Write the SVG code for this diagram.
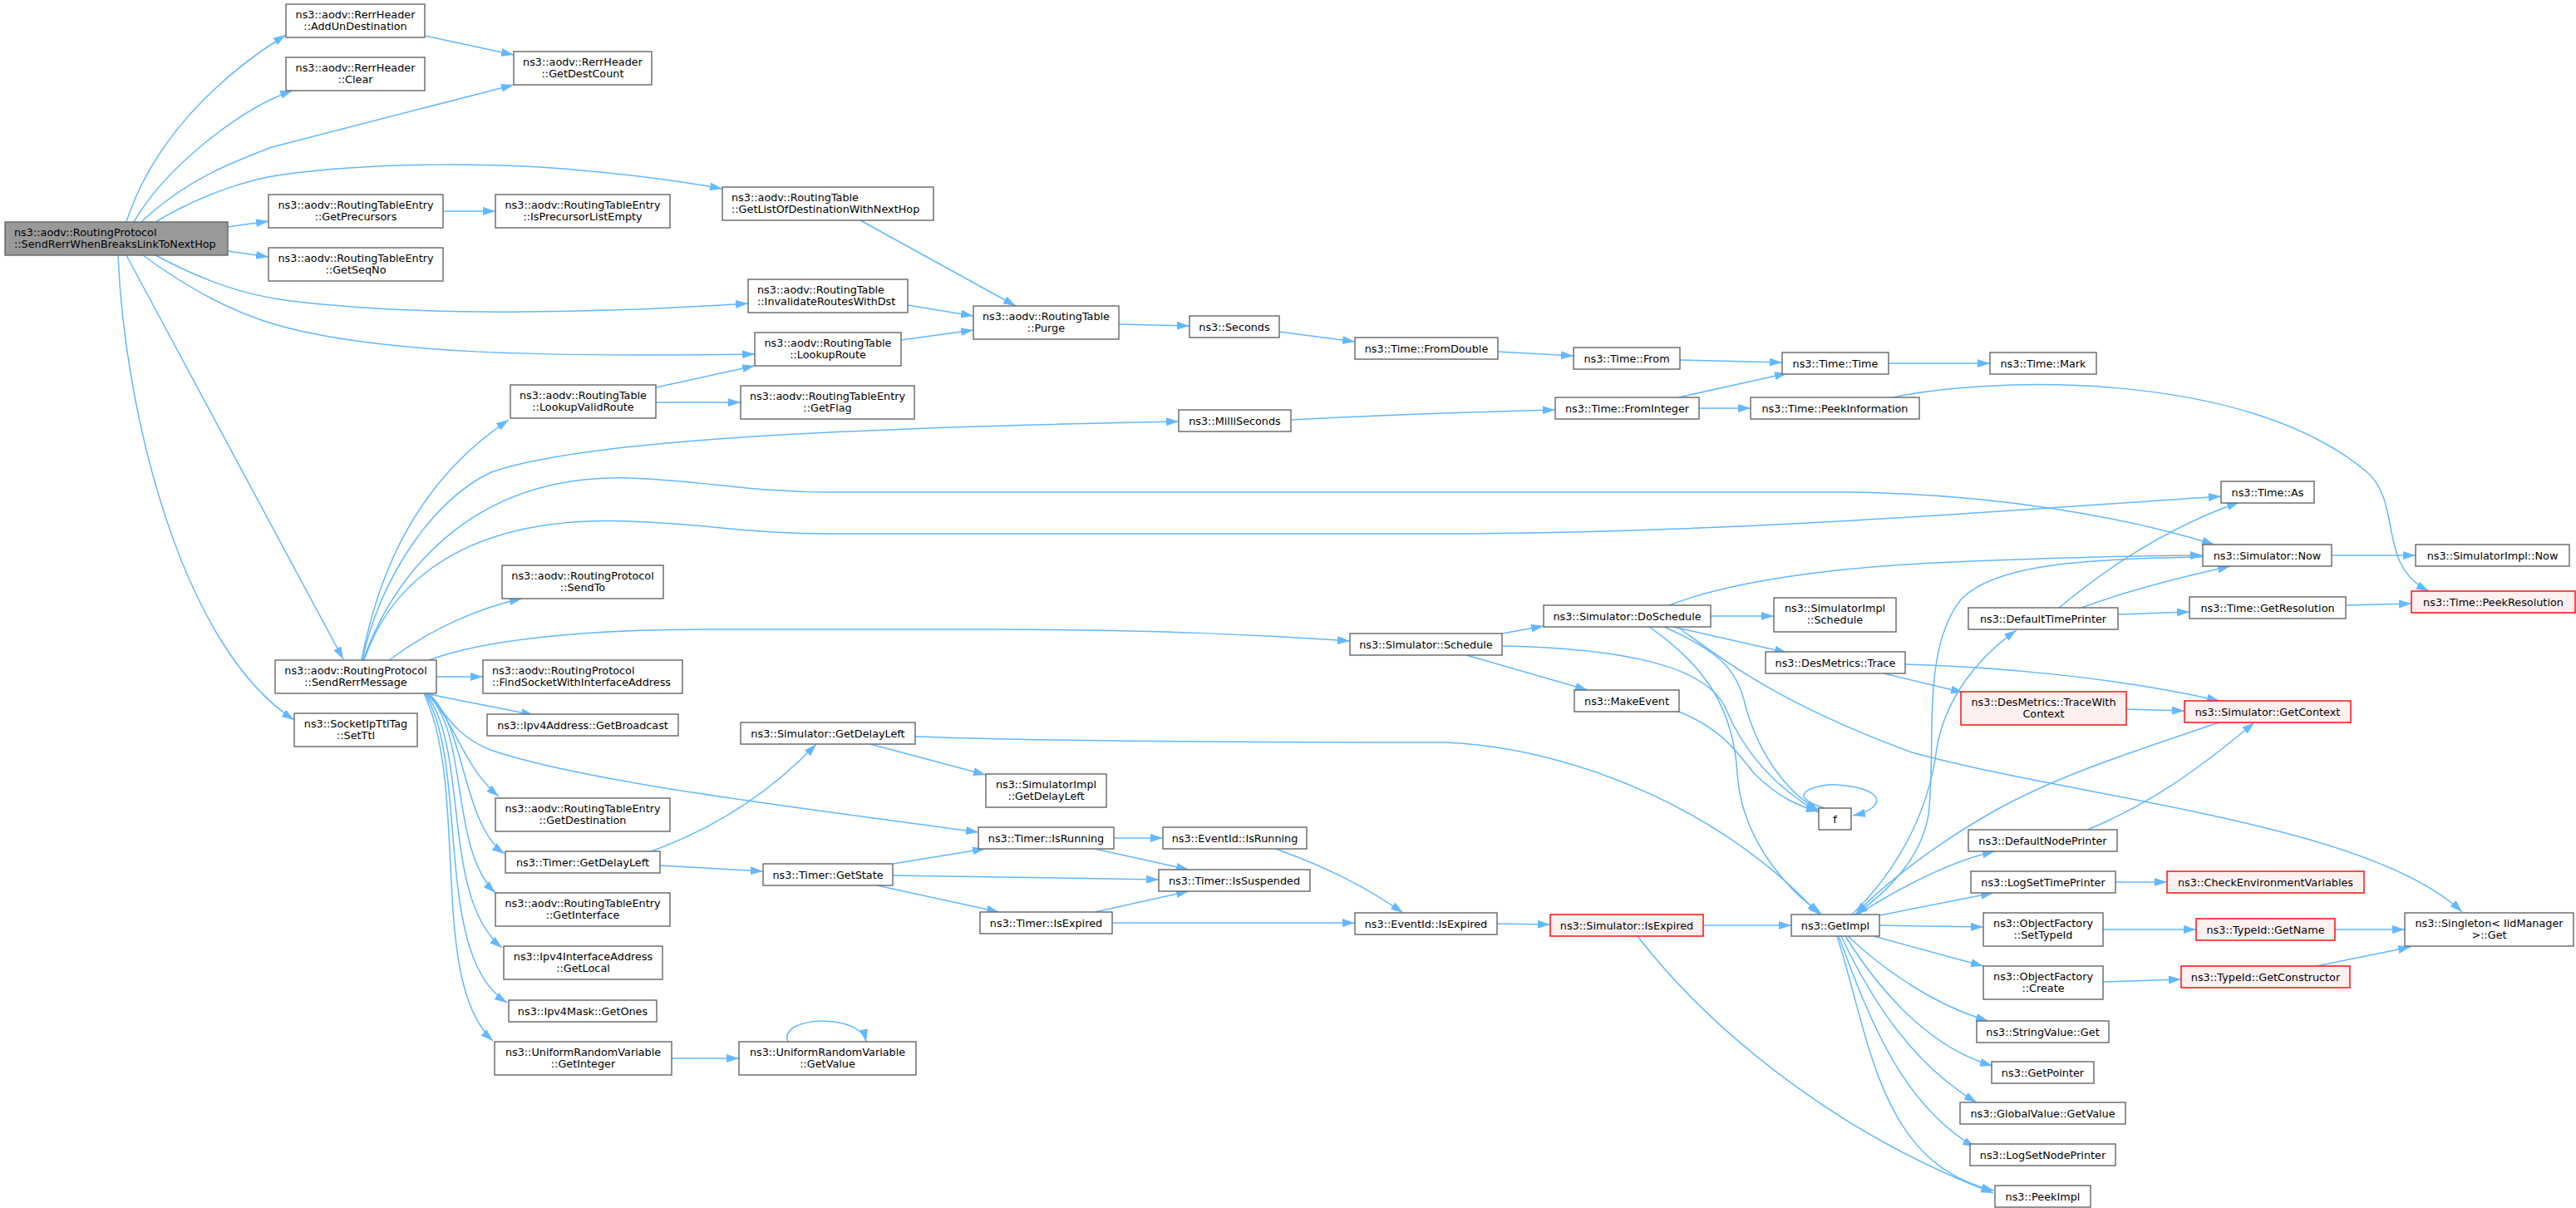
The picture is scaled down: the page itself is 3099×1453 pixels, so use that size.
<svg xmlns="http://www.w3.org/2000/svg" width="3099" height="1453" viewBox="0 0 3099 1453">
<style>
.n rect{fill:#fff;stroke:#666;stroke-width:1.4}
.m rect{fill:#999;stroke:#666;stroke-width:1.4}
.r rect{fill:#fff0f0;stroke:#f00;stroke-width:1.4}
text{font-family:"DejaVu Sans","Liberation Sans",sans-serif;font-size:12.8px;fill:#000}
.c{text-anchor:middle}
.l{text-anchor:start}
#edges path{fill:none;stroke:#63b8ff;stroke-width:1.5;marker-end:url(#a)}
</style>
<defs>
<marker id="a" markerUnits="userSpaceOnUse" markerWidth="16" markerHeight="12" refX="15" refY="5" orient="auto">
<path d="M0,0 L15,5 L0,10 z" fill="#63b8ff"/>
</marker>
</defs>
<rect width="3099" height="1453" fill="#fff"/>
<g id="edges">
<path d="M152,267 C190,150 290,75 344,42"/>
<path d="M161,267 C200,200 290,130 352,109"/>
<path d="M170,267 C225,215 280,195 327,177 L618,102"/>
<path d="M187,267 C240,235 300,215 340,210 C450,195 600,195 700,205 C780,212 830,220 869,227"/>
<path d="M274,273 L323,266"/>
<path d="M274,302 L323,309"/>
<path d="M187,307 C240,335 290,355 350,362 C500,380 700,378 900,365"/>
<path d="M172,307 C230,350 280,375 330,390 C450,425 650,430 908,426"/>
<path d="M152,307 L413,793"/>
<path d="M142,307 C150,500 220,780 354,866"/>
<path d="M511,43 L618,66"/>
<path d="M533,254 L596,254"/>
<path d="M789,466 L908,440"/>
<path d="M789,484 L891,484"/>
<path d="M1035,265 L1222,368"/>
<path d="M1092,367 L1171,380"/>
<path d="M1084,409 L1171,397"/>
<path d="M1346,390 L1431,392"/>
<path d="M1539,399 L1630,411"/>
<path d="M1802,423 L1893,428"/>
<path d="M2021,433 L2144,436"/>
<path d="M2272,437 L2394,437"/>
<path d="M1553,505 C1650,500 1750,496 1871,493"/>
<path d="M2019,478 L2150,449"/>
<path d="M2044,491 L2106,491"/>
<path d="M2277,478 C2380,455 2700,440 2850,570 C2890,610 2860,680 2922,711"/>
<path d="M435,794 C455,690 500,580 612,505"/>
<path d="M436,794 C455,700 520,600 591,568 C700,530 1000,515 1418,507"/>
<path d="M437,794 C470,700 560,570 756,575 C850,578 900,592 1000,592 L2230,592 C2400,595 2550,620 2664,655"/>
<path d="M438,794 C470,700 560,620 756,627 C850,630 900,642 1000,642 L1750,642 C2100,640 2400,615 2672,597"/>
<path d="M468,794 C520,755 580,730 628,720"/>
<path d="M516,794 C580,770 700,757 850,757 L1200,757 C1400,758 1500,763 1624,771"/>
<path d="M525,814 L581,814"/>
<path d="M511,834 L642,860"/>
<path d="M517,835 C545,875 560,890 590,902 C700,940 950,970 1177,1001"/>
<path d="M512,834 C545,860 555,920 600,958"/>
<path d="M515,834 C560,870 555,990 607,1027"/>
<path d="M513,834 C565,880 540,1020 596,1074"/>
<path d="M512,834 C565,900 530,1080 604,1140"/>
<path d="M511,834 C565,920 520,1150 610,1206"/>
<path d="M510,834 C565,950 515,1180 593,1252"/>
<path d="M808,1273 L889,1273"/>
<path d="M948,1253 C935,1222 1035,1218 1042,1253"/>
<path d="M783,1024 C850,1000 920,960 982,895"/>
<path d="M794,1041 L918,1048"/>
<path d="M1047,895 L1186,932"/>
<path d="M1101,886 C1300,893 1600,893 1740,893 C1900,900 2080,980 2188,1100"/>
<path d="M1074,1039 L1185,1021"/>
<path d="M1074,1053 L1394,1058"/>
<path d="M1055,1065 L1202,1097"/>
<path d="M1340,1008 L1399,1008"/>
<path d="M1317,1021 L1430,1046"/>
<path d="M1317,1097 L1430,1072"/>
<path d="M1338,1110 L1630,1110"/>
<path d="M1535,1021 C1600,1045 1640,1065 1688,1098"/>
<path d="M1801,1111 L1865,1112"/>
<path d="M2049,1113 L2155,1113"/>
<path d="M1970,1126 C2050,1230 2200,1360 2398,1435"/>
<path d="M1807,762 L1857,753"/>
<path d="M1764,788 L1910,830"/>
<path d="M1808,777 C1950,780 2050,800 2075,850 C2100,910 2140,950 2188,977"/>
<path d="M2058,741 L2134,741"/>
<path d="M2013,754 L2150,785"/>
<path d="M2008,728 C2080,700 2200,682 2350,676 C2500,670 2580,668 2650,668"/>
<path d="M2002,754 C2060,780 2090,800 2100,850 C2120,920 2160,960 2188,974"/>
<path d="M1984,754 C2050,800 2085,850 2090,930 C2095,1010 2150,1070 2192,1100"/>
<path d="M2018,754 C2080,800 2150,850 2300,905 C2500,960 2850,990 2962,1097"/>
<path d="M2017,855 C2070,875 2090,905 2110,930 C2140,960 2165,970 2188,976"/>
<path d="M2195,972 C2140,955 2190,942 2210,944 C2270,948 2270,972 2229,981"/>
<path d="M2266,810 L2362,833"/>
<path d="M2292,799 C2400,802 2550,815 2670,843"/>
<path d="M2558,853 L2628,855"/>
<path d="M2477,731 C2550,670 2620,630 2694,604"/>
<path d="M2504,731 C2560,710 2620,695 2683,681"/>
<path d="M2548,739 L2634,736"/>
<path d="M2822,728 L2901,726"/>
<path d="M2805,668 L2906,668"/>
<path d="M2650,670 C2500,672 2400,680 2360,720 C2310,780 2330,900 2320,980 C2310,1040 2260,1080 2232,1100"/>
<path d="M2228,1100 C2280,1050 2320,980 2330,900 C2340,840 2380,790 2426,758"/>
<path d="M2672,868 C2580,900 2480,930 2400,975 C2320,1020 2260,1070 2232,1100"/>
<path d="M2511,998 C2580,970 2640,930 2712,869"/>
<path d="M2235,1100 C2290,1065 2350,1035 2400,1024"/>
<path d="M2261,1101 L2398,1074"/>
<path d="M2261,1113 L2386,1115"/>
<path d="M2254,1126 L2386,1162"/>
<path d="M2223,1126 C2270,1170 2330,1210 2392,1228"/>
<path d="M2220,1126 C2260,1190 2320,1260 2397,1282"/>
<path d="M2215,1126 C2250,1200 2300,1280 2378,1326"/>
<path d="M2212,1126 C2250,1230 2290,1330 2376,1380"/>
<path d="M2210,1126 C2250,1250 2260,1400 2399,1432"/>
<path d="M2545,1061 L2607,1061"/>
<path d="M2530,1118 L2642,1118"/>
<path d="M2809,1118 L2893,1118"/>
<path d="M2530,1181 L2624,1178"/>
<path d="M2787,1162 L2900,1139"/>
</g>
<g id="main" class="m"><rect x="6" y="267" width="268" height="40"/><text class="l" x="17" y="284">ns3::aodv::RoutingProtocol</text><text class="l" x="17" y="298">::SendRerrWhenBreaksLinkToNextHop</text></g>
<g id="addun" class="n"><rect x="344" y="5" width="167" height="40"/><text class="c" x="427.5" y="22">ns3::aodv::RerrHeader</text><text class="c" x="427.5" y="36">::AddUnDestination</text></g>
<g id="clear" class="n"><rect x="344" y="69" width="167" height="40"/><text class="c" x="427.5" y="86">ns3::aodv::RerrHeader</text><text class="c" x="427.5" y="100">::Clear</text></g>
<g id="destcount" class="n"><rect x="618" y="62" width="166" height="40"/><text class="c" x="701" y="79">ns3::aodv::RerrHeader</text><text class="c" x="701" y="93">::GetDestCount</text></g>
<g id="getlist" class="n"><rect x="869" y="225" width="254" height="40"/><text class="l" x="880" y="242">ns3::aodv::RoutingTable</text><text class="l" x="880" y="256">::GetListOfDestinationWithNextHop</text></g>
<g id="precursors" class="n"><rect x="323" y="234" width="210" height="40"/><text class="c" x="428" y="251">ns3::aodv::RoutingTableEntry</text><text class="c" x="428" y="265">::GetPrecursors</text></g>
<g id="isprec" class="n"><rect x="596" y="234" width="210" height="40"/><text class="c" x="701" y="251">ns3::aodv::RoutingTableEntry</text><text class="c" x="701" y="265">::IsPrecursorListEmpty</text></g>
<g id="seqno" class="n"><rect x="323" y="298" width="210" height="40"/><text class="c" x="428" y="315">ns3::aodv::RoutingTableEntry</text><text class="c" x="428" y="329">::GetSeqNo</text></g>
<g id="invalidate" class="n"><rect x="900" y="336" width="192" height="40"/><text class="l" x="911" y="353">ns3::aodv::RoutingTable</text><text class="l" x="911" y="367">::InvalidateRoutesWithDst</text></g>
<g id="purge" class="n"><rect x="1171" y="368" width="175" height="40"/><text class="c" x="1258.5" y="385">ns3::aodv::RoutingTable</text><text class="c" x="1258.5" y="399">::Purge</text></g>
<g id="lookuproute" class="n"><rect x="908" y="400" width="176" height="40"/><text class="c" x="996" y="417">ns3::aodv::RoutingTable</text><text class="c" x="996" y="431">::LookupRoute</text></g>
<g id="lookupvalid" class="n"><rect x="614" y="463" width="175" height="40"/><text class="c" x="701.5" y="480">ns3::aodv::RoutingTable</text><text class="c" x="701.5" y="494">::LookupValidRoute</text></g>
<g id="getflag" class="n"><rect x="891" y="464" width="209" height="40"/><text class="c" x="995.5" y="481">ns3::aodv::RoutingTableEntry</text><text class="c" x="995.5" y="495">::GetFlag</text></g>
<g id="seconds" class="n"><rect x="1431" y="380" width="108" height="26"/><text class="c" x="1485" y="397.5">ns3::Seconds</text></g>
<g id="fromdouble" class="n"><rect x="1630" y="406" width="172" height="26"/><text class="c" x="1716" y="423.5">ns3::Time::FromDouble</text></g>
<g id="from" class="n"><rect x="1893" y="418" width="128" height="26"/><text class="c" x="1957" y="435.5">ns3::Time::From</text></g>
<g id="timetime" class="n"><rect x="2144" y="424" width="128" height="26"/><text class="c" x="2208" y="441.5">ns3::Time::Time</text></g>
<g id="mark" class="n"><rect x="2394" y="424" width="128" height="26"/><text class="c" x="2458" y="441.5">ns3::Time::Mark</text></g>
<g id="milli" class="n"><rect x="1418" y="493" width="135" height="26"/><text class="c" x="1485.5" y="510.5">ns3::MilliSeconds</text></g>
<g id="fromint" class="n"><rect x="1871" y="478" width="173" height="26"/><text class="c" x="1957.5" y="495.5">ns3::Time::FromInteger</text></g>
<g id="peekinfo" class="n"><rect x="2106" y="478" width="203" height="26"/><text class="c" x="2207.5" y="495.5">ns3::Time::PeekInformation</text></g>
<g id="timeas" class="n"><rect x="2672" y="579" width="112" height="26"/><text class="c" x="2728" y="596.5">ns3::Time::As</text></g>
<g id="simnow" class="n"><rect x="2650" y="655" width="155" height="26"/><text class="c" x="2727.5" y="672.5">ns3::Simulator::Now</text></g>
<g id="implnow" class="n"><rect x="2906" y="655" width="185" height="26"/><text class="c" x="2998.5" y="672.5">ns3::SimulatorImpl::Now</text></g>
<g id="getres" class="n"><rect x="2634" y="718" width="188" height="26"/><text class="c" x="2728" y="735.5">ns3::Time::GetResolution</text></g>
<g id="peekres" class="r"><rect x="2901" y="711" width="197" height="26"/><text class="c" x="2999.5" y="728.5">ns3::Time::PeekResolution</text></g>
<g id="sendto" class="n"><rect x="604" y="680" width="194" height="40"/><text class="c" x="701" y="697">ns3::aodv::RoutingProtocol</text><text class="c" x="701" y="711">::SendTo</text></g>
<g id="sendrerr" class="n"><rect x="331" y="794" width="194" height="40"/><text class="c" x="428" y="811">ns3::aodv::RoutingProtocol</text><text class="c" x="428" y="825">::SendRerrMessage</text></g>
<g id="findsocket" class="n"><rect x="581" y="794" width="240" height="40"/><text class="l" x="592" y="811">ns3::aodv::RoutingProtocol</text><text class="l" x="592" y="825">::FindSocketWithInterfaceAddress</text></g>
<g id="setttl" class="n"><rect x="354" y="858" width="148" height="40"/><text class="c" x="428" y="875">ns3::SocketIpTtlTag</text><text class="c" x="428" y="889">::SetTtl</text></g>
<g id="broadcast" class="n"><rect x="586" y="859" width="230" height="26"/><text class="c" x="701" y="876.5">ns3::Ipv4Address::GetBroadcast</text></g>
<g id="getdest" class="n"><rect x="596" y="960" width="210" height="40"/><text class="c" x="701" y="977">ns3::aodv::RoutingTableEntry</text><text class="c" x="701" y="991">::GetDestination</text></g>
<g id="timerdelay" class="n"><rect x="608" y="1024" width="186" height="26"/><text class="c" x="701" y="1041.5">ns3::Timer::GetDelayLeft</text></g>
<g id="getiface" class="n"><rect x="596" y="1074" width="210" height="40"/><text class="c" x="701" y="1091">ns3::aodv::RoutingTableEntry</text><text class="c" x="701" y="1105">::GetInterface</text></g>
<g id="getlocal" class="n"><rect x="606" y="1138" width="191" height="40"/><text class="c" x="701.5" y="1155">ns3::Ipv4InterfaceAddress</text><text class="c" x="701.5" y="1169">::GetLocal</text></g>
<g id="getones" class="n"><rect x="612" y="1203" width="178" height="26"/><text class="c" x="701" y="1220.5">ns3::Ipv4Mask::GetOnes</text></g>
<g id="getint" class="n"><rect x="595" y="1253" width="213" height="40"/><text class="c" x="701.5" y="1270">ns3::UniformRandomVariable</text><text class="c" x="701.5" y="1284">::GetInteger</text></g>
<g id="getvalue" class="n"><rect x="889" y="1253" width="213" height="40"/><text class="c" x="995.5" y="1270">ns3::UniformRandomVariable</text><text class="c" x="995.5" y="1284">::GetValue</text></g>
<g id="simdelay" class="n"><rect x="891" y="869" width="210" height="26"/><text class="c" x="996" y="886.5">ns3::Simulator::GetDelayLeft</text></g>
<g id="impldelay" class="n"><rect x="1186" y="931" width="145" height="40"/><text class="c" x="1258.5" y="948">ns3::SimulatorImpl</text><text class="c" x="1258.5" y="962">::GetDelayLeft</text></g>
<g id="isrunning" class="n"><rect x="1177" y="995" width="163" height="26"/><text class="c" x="1258.5" y="1012.5">ns3::Timer::IsRunning</text></g>
<g id="eventrunning" class="n"><rect x="1399" y="995" width="173" height="26"/><text class="c" x="1485.5" y="1012.5">ns3::EventId::IsRunning</text></g>
<g id="getstate" class="n"><rect x="918" y="1039" width="156" height="26"/><text class="c" x="996" y="1056.5">ns3::Timer::GetState</text></g>
<g id="issuspended" class="n"><rect x="1394" y="1046" width="182" height="26"/><text class="c" x="1485" y="1063.5">ns3::Timer::IsSuspended</text></g>
<g id="isexpired" class="n"><rect x="1179" y="1097" width="159" height="26"/><text class="c" x="1258.5" y="1114.5">ns3::Timer::IsExpired</text></g>
<g id="eventexpired" class="n"><rect x="1630" y="1098" width="171" height="26"/><text class="c" x="1715.5" y="1115.5">ns3::EventId::IsExpired</text></g>
<g id="simexpired" class="r"><rect x="1865" y="1100" width="184" height="26"/><text class="c" x="1957" y="1117.5">ns3::Simulator::IsExpired</text></g>
<g id="getimpl" class="n"><rect x="2155" y="1100" width="106" height="26"/><text class="c" x="2208" y="1117.5">ns3::GetImpl</text></g>
<g id="schedule" class="n"><rect x="1624" y="762" width="183" height="26"/><text class="c" x="1715.5" y="779.5">ns3::Simulator::Schedule</text></g>
<g id="doschedule" class="n"><rect x="1857" y="728" width="201" height="26"/><text class="c" x="1957.5" y="745.5">ns3::Simulator::DoSchedule</text></g>
<g id="implschedule" class="n"><rect x="2134" y="719" width="147" height="41"/><text class="c" x="2207.5" y="736">ns3::SimulatorImpl</text><text class="c" x="2207.5" y="750">::Schedule</text></g>
<g id="trace" class="n"><rect x="2124" y="784" width="168" height="26"/><text class="c" x="2208" y="801.5">ns3::DesMetrics::Trace</text></g>
<g id="makeevent" class="n"><rect x="1894" y="830" width="126" height="26"/><text class="c" x="1957" y="847.5">ns3::MakeEvent</text></g>
<g id="f" class="n"><rect x="2188" y="972" width="39" height="26"/><text class="c" x="2207.5" y="989.5">f</text></g>
<g id="defaulttime" class="n"><rect x="2368" y="731" width="180" height="26"/><text class="c" x="2458" y="748.5">ns3::DefaultTimePrinter</text></g>
<g id="tracectx" class="r"><rect x="2359" y="832" width="199" height="40"/><text class="c" x="2458.5" y="849">ns3::DesMetrics::TraceWith</text><text class="c" x="2458.5" y="863">Context</text></g>
<g id="getcontext" class="r"><rect x="2628" y="843" width="200" height="26"/><text class="c" x="2728" y="860.5">ns3::Simulator::GetContext</text></g>
<g id="defaultnode" class="n"><rect x="2368" y="998" width="179" height="26"/><text class="c" x="2457.5" y="1015.5">ns3::DefaultNodePrinter</text></g>
<g id="logtime" class="n"><rect x="2371" y="1048" width="174" height="26"/><text class="c" x="2458" y="1065.5">ns3::LogSetTimePrinter</text></g>
<g id="checkenv" class="r"><rect x="2607" y="1048" width="237" height="26"/><text class="c" x="2725.5" y="1065.5">ns3::CheckEnvironmentVariables</text></g>
<g id="settypeid" class="n"><rect x="2386" y="1098" width="144" height="40"/><text class="c" x="2458" y="1115">ns3::ObjectFactory</text><text class="c" x="2458" y="1129">::SetTypeId</text></g>
<g id="getname" class="r"><rect x="2642" y="1105" width="167" height="26"/><text class="c" x="2725.5" y="1122.5">ns3::TypeId::GetName</text></g>
<g id="singleton" class="n"><rect x="2893" y="1098" width="203" height="40"/><text class="c" x="2994.5" y="1115">ns3::Singleton&lt; IidManager</text><text class="c" x="2994.5" y="1129">&gt;::Get</text></g>
<g id="create" class="n"><rect x="2386" y="1162" width="144" height="40"/><text class="c" x="2458" y="1179">ns3::ObjectFactory</text><text class="c" x="2458" y="1193">::Create</text></g>
<g id="getctor" class="r"><rect x="2624" y="1162" width="203" height="26"/><text class="c" x="2725.5" y="1179.5">ns3::TypeId::GetConstructor</text></g>
<g id="stringget" class="n"><rect x="2378" y="1228" width="159" height="26"/><text class="c" x="2457.5" y="1245.5">ns3::StringValue::Get</text></g>
<g id="getpointer" class="n"><rect x="2396" y="1277" width="123" height="26"/><text class="c" x="2457.5" y="1294.5">ns3::GetPointer</text></g>
<g id="globalvalue" class="n"><rect x="2358" y="1326" width="199" height="26"/><text class="c" x="2457.5" y="1343.5">ns3::GlobalValue::GetValue</text></g>
<g id="lognode" class="n"><rect x="2370" y="1376" width="175" height="26"/><text class="c" x="2457.5" y="1393.5">ns3::LogSetNodePrinter</text></g>
<g id="peekimpl" class="n"><rect x="2400" y="1426" width="115" height="26"/><text class="c" x="2457.5" y="1443.5">ns3::PeekImpl</text></g>
</svg>
